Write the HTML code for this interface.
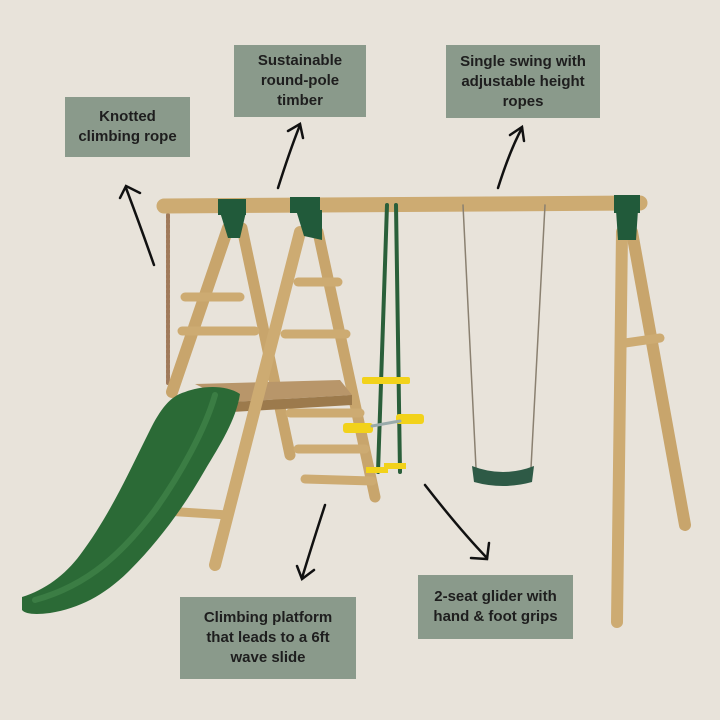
<!DOCTYPE html>
<html><head><meta charset="utf-8"><style>
html,body{margin:0;padding:0;background:#e8e3da;}
.wrap{position:relative;width:720px;height:720px;overflow:hidden;background:#e8e3da;font-family:"Liberation Sans",sans-serif;}
.box{position:absolute;background:#8a9a8b;color:#1e1e1e;font-weight:bold;font-size:15px;line-height:20px;text-align:center;display:flex;align-items:center;justify-content:center;}
svg{position:absolute;left:0;top:0;}
</style></head><body><div class="wrap">
<svg width="720" height="720" viewBox="0 0 720 720">
<g stroke-linecap="round" fill="none">
<line x1="168" y1="215" x2="168" y2="385" stroke="#a07a5a" stroke-width="4" stroke-dasharray="3 2"/>
<line x1="228" y1="228" x2="172" y2="392" stroke="#c8a56c" stroke-width="12"/>
<line x1="242" y1="228" x2="290" y2="455" stroke="#c8a56c" stroke-width="11"/>
<line x1="318" y1="232" x2="375" y2="497" stroke="#c8a56c" stroke-width="11"/>
<line x1="632" y1="232" x2="685" y2="525" stroke="#c8a56c" stroke-width="12"/>
<g stroke="#cdab72" stroke-width="9">
<line x1="185" y1="297" x2="240" y2="297"/>
<line x1="182" y1="331" x2="255" y2="331"/>
<line x1="298" y1="282" x2="338" y2="282"/>
<line x1="285" y1="334" x2="346" y2="334"/>
<line x1="290" y1="413" x2="360" y2="413"/>
<line x1="298" y1="449" x2="365" y2="449"/>
<line x1="305" y1="479" x2="372" y2="481"/>
<line x1="165" y1="511" x2="228" y2="515"/>
<line x1="625" y1="343" x2="660" y2="338"/>
</g>
<polygon points="195,384 340,380 352,395 232,402" fill="#b8966a" stroke="none"/>
<polygon points="232,402 352,395 352,405 232,412" fill="#9c7a4c" stroke="none"/>
<path d="M185,392 C200,386 225,384 240,394 C236,420 220,445 205,470 C185,505 160,540 130,570 C105,595 80,608 50,613 C35,615 25,614 22,610 L22,597 C45,590 65,575 80,555 C110,515 130,470 150,430 C160,410 170,396 185,392 Z" fill="#2b6a36" stroke="none"/>
<path d="M215,395 C205,430 180,475 155,510 C125,550 90,585 35,600" stroke="#3b7d44" stroke-width="6"/>
<line x1="300" y1="232" x2="215" y2="565" stroke="#cdab72" stroke-width="12"/>
<line x1="622" y1="232" x2="617" y2="622" stroke="#cdab72" stroke-width="12"/>
<line x1="164" y1="206" x2="640" y2="203" stroke="#cdab72" stroke-width="15"/>
<g fill="#215a3a" stroke="none">
<rect x="218" y="199" width="28" height="16"/><polygon points="220,212 246,212 240,238 228,238"/>
<rect x="290" y="197" width="30" height="16"/><polygon points="296,210 322,210 322,240 304,236"/>
<rect x="614" y="195" width="26" height="18"/><polygon points="616,210 638,210 636,240 618,240"/>
</g>
<line x1="387" y1="205" x2="378" y2="472" stroke="#2a5f3a" stroke-width="4"/>
<line x1="396" y1="205" x2="400" y2="472" stroke="#2a5f3a" stroke-width="4"/>
<g fill="#f2d21a" stroke="none">
<rect x="362" y="377" width="48" height="7" rx="2"/>
<rect x="343" y="423" width="30" height="10" rx="3"/>
<rect x="396" y="414" width="28" height="10" rx="3"/>
<rect x="366" y="467" width="22" height="6"/>
<rect x="384" y="463" width="22" height="6"/>
</g>
<line x1="372" y1="426" x2="400" y2="421" stroke="#9aa" stroke-width="3"/>
<line x1="463" y1="205" x2="476" y2="468" stroke="#8a8070" stroke-width="1.5"/>
<line x1="545" y1="205" x2="531" y2="468" stroke="#8a8070" stroke-width="1.5"/>
<path d="M472,466 Q503,478 534,466 L532,482 Q503,490 474,482 Z" fill="#2e5a46" stroke="none"/>
<g stroke="#111" stroke-width="2.5">
<path d="M154,265 Q140,225 126,188"/><path d="M120,198 L126,186 L140,193"/>
<path d="M278,188 Q290,150 300,125"/><path d="M288,131 L300,124 L303,138"/>
<path d="M498,188 Q510,150 522,128"/><path d="M510,135 L522,127 L524,141"/>
<path d="M325,505 Q312,545 302,578"/><path d="M297,566 L302,579 L314,570"/>
<path d="M425,485 Q460,530 487,558"/><path d="M489,543 L487,559 L471,558"/>
</g>
</g>
</svg>
<div class="box" style="left:65px;top:97px;width:125px;height:60px;">Knotted<br>climbing rope</div>
<div class="box" style="left:234px;top:45px;width:132px;height:72px;">Sustainable<br>round-pole<br>timber</div>
<div class="box" style="left:446px;top:45px;width:154px;height:73px;">Single swing with<br>adjustable height<br>ropes</div>
<div class="box" style="left:180px;top:597px;width:176px;height:82px;">Climbing platform<br>that leads to a 6ft<br>wave slide</div>
<div class="box" style="left:418px;top:575px;width:155px;height:64px;">2-seat glider with<br>hand &amp; foot grips</div>
</div></body></html>
